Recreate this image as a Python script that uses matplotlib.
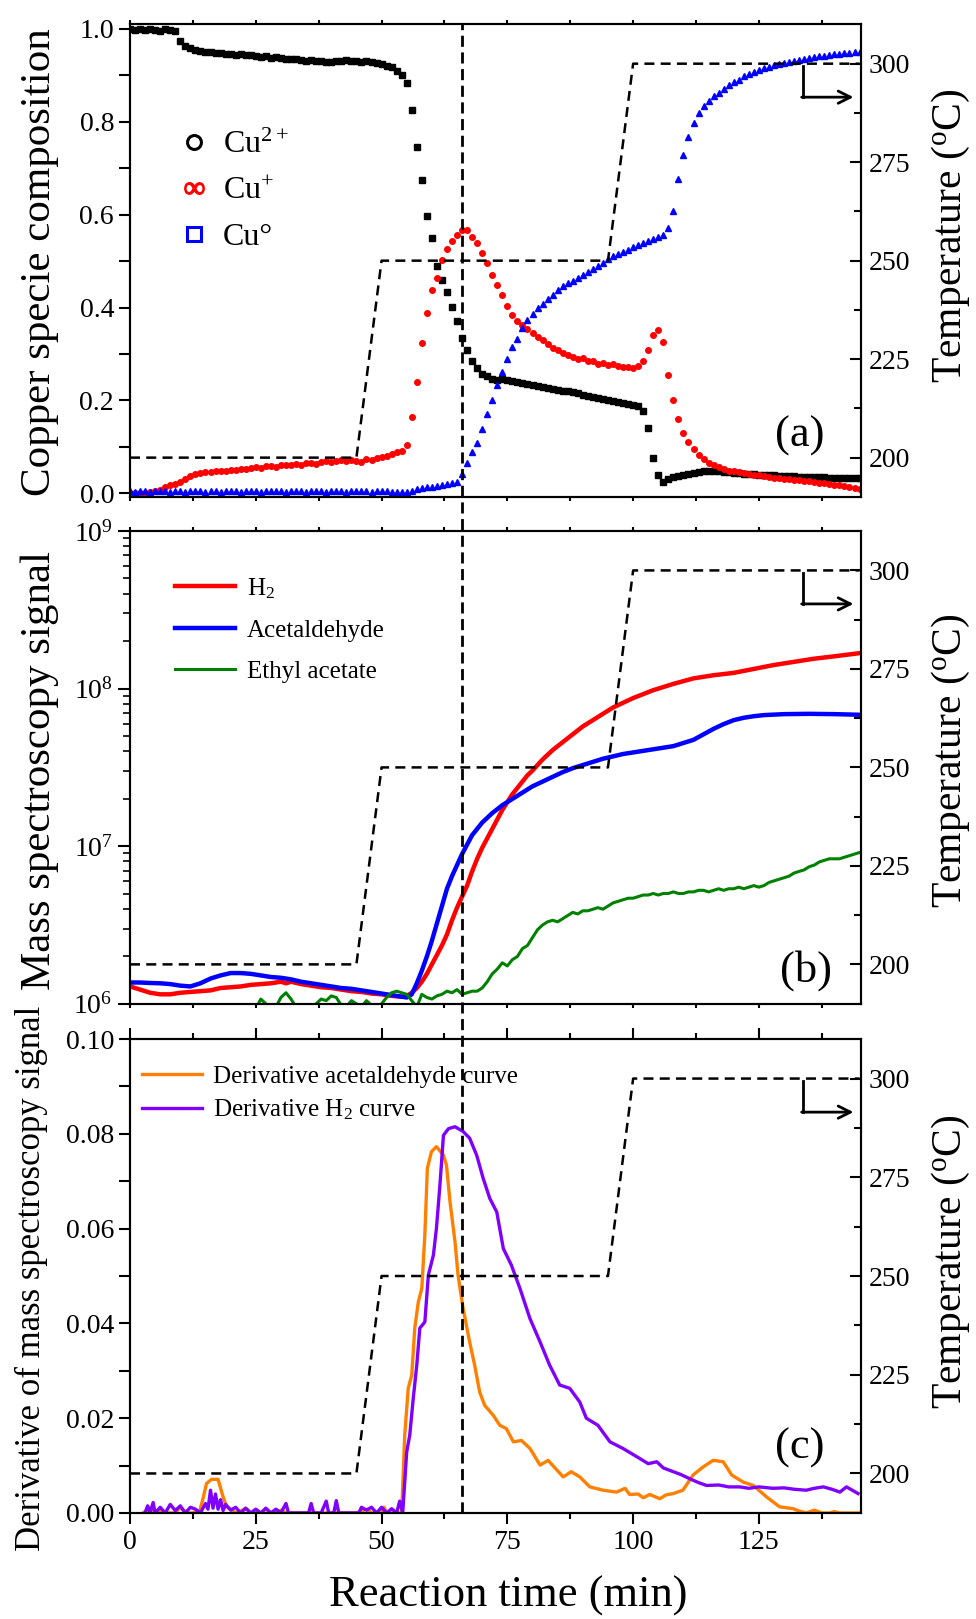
import numpy as np
import matplotlib
matplotlib.use('Agg')
import matplotlib.pyplot as plt
import matplotlib.transforms as mtransforms
from matplotlib.lines import Line2D
from matplotlib.ticker import MultipleLocator, LogLocator, NullFormatter

plt.rcParams['font.family'] = ['Liberation Serif', 'DejaVu Serif']
plt.rcParams['mathtext.fontset'] = 'custom'
plt.rcParams['mathtext.rm'] = 'Liberation Serif'
plt.rcParams['mathtext.it'] = 'Liberation Serif:italic'
plt.rcParams['mathtext.bf'] = 'Liberation Serif:bold'

# temperature programme (right axes)
temp_time = [0, 45, 50, 95, 100, 145]
temp_val = [200, 200, 250, 250, 300, 300]
t_mark = 66  # vertical reference line

# (a) copper species, one point per minute
t_cu = np.arange(0, 146)
cu2 = [1.000, 0.998, 1.000, 0.997, 1.000, 0.998, 0.996, 1.000, 0.998, 0.995,
       0.975, 0.963, 0.958, 0.955, 0.953, 0.951, 0.950, 0.948, 0.949, 0.946,
       0.947, 0.944, 0.945, 0.943, 0.944, 0.941, 0.940, 0.942, 0.938, 0.939,
       0.937, 0.936, 0.935, 0.936, 0.933, 0.932, 0.933, 0.930, 0.931, 0.929,
       0.928, 0.930, 0.931, 0.933, 0.930, 0.931, 0.929, 0.930, 0.928, 0.926,
       0.924, 0.921, 0.917, 0.910, 0.900, 0.883, 0.826, 0.745, 0.675, 0.598,
       0.550, 0.490, 0.460, 0.434, 0.401, 0.370, 0.334, 0.308, 0.285, 0.269,
       0.257, 0.252, 0.247, 0.244, 0.246, 0.245, 0.242, 0.239, 0.238, 0.236,
       0.233, 0.231, 0.229, 0.226, 0.224, 0.222, 0.221, 0.220, 0.218, 0.216,
       0.212, 0.210, 0.208, 0.205, 0.203, 0.201, 0.199, 0.197, 0.195, 0.192,
       0.190, 0.187, 0.178, 0.140, 0.075, 0.039, 0.024, 0.030, 0.035, 0.038,
       0.040, 0.042, 0.044, 0.046, 0.048, 0.049, 0.048, 0.047, 0.046, 0.045,
       0.044, 0.043, 0.042, 0.041, 0.041, 0.040, 0.040, 0.039, 0.039, 0.038,
       0.038, 0.037, 0.037, 0.036, 0.036, 0.036, 0.035, 0.035, 0.035, 0.034,
       0.034, 0.034, 0.033, 0.033, 0.033, 0.032]
cu1 = [0.000, 0.000, 0.001, 0.000, 0.002, 0.004, 0.008, 0.013, 0.018, 0.020,
       0.025, 0.031, 0.037, 0.041, 0.043, 0.045, 0.046, 0.047, 0.049, 0.048,
       0.051, 0.050, 0.053, 0.052, 0.055, 0.056, 0.054, 0.058, 0.059, 0.057,
       0.061, 0.060, 0.062, 0.064, 0.061, 0.065, 0.066, 0.064, 0.067, 0.069,
       0.068, 0.070, 0.072, 0.069, 0.071, 0.070, 0.068, 0.073, 0.072, 0.076,
       0.078, 0.080, 0.084, 0.088, 0.092, 0.104, 0.165, 0.240, 0.324, 0.388,
       0.437, 0.463, 0.503, 0.526, 0.543, 0.556, 0.567, 0.568, 0.553, 0.540,
       0.518, 0.495, 0.470, 0.448, 0.426, 0.404, 0.385, 0.370, 0.362, 0.353,
       0.345, 0.337, 0.330, 0.322, 0.313, 0.308, 0.303, 0.298, 0.294, 0.289,
       0.292, 0.284, 0.285, 0.279, 0.281, 0.276, 0.279, 0.274, 0.272, 0.273,
       0.270, 0.274, 0.285, 0.308, 0.340, 0.352, 0.325, 0.255, 0.200, 0.160,
       0.130, 0.110, 0.095, 0.082, 0.074, 0.066, 0.060, 0.056, 0.052, 0.049,
       0.047, 0.045, 0.044, 0.042, 0.040, 0.039, 0.037, 0.036, 0.034, 0.033,
       0.031, 0.030, 0.029, 0.028, 0.026, 0.026, 0.024, 0.023, 0.022, 0.020,
       0.018, 0.017, 0.015, 0.013, 0.011, 0.009]
cu0 = [0.004, 0.003, 0.004, 0.005, 0.003, 0.004, 0.005, 0.004, 0.003, 0.005,
       0.004, 0.003, 0.005, 0.004, 0.004, 0.003, 0.005, 0.004, 0.003, 0.004,
       0.005, 0.004, 0.003, 0.004, 0.005, 0.004, 0.003, 0.004, 0.004, 0.005,
       0.004, 0.003, 0.004, 0.005, 0.004, 0.003, 0.004, 0.005, 0.004, 0.003,
       0.004, 0.005, 0.004, 0.003, 0.004, 0.004, 0.005, 0.004, 0.003, 0.004,
       0.005, 0.004, 0.003, 0.002, 0.002, 0.003, 0.006, 0.009, 0.011, 0.013,
       0.014, 0.016, 0.018, 0.020, 0.022, 0.025, 0.042, 0.066, 0.089, 0.109,
       0.138, 0.170, 0.202, 0.233, 0.262, 0.289, 0.314, 0.333, 0.357, 0.373,
       0.387, 0.398, 0.408, 0.418, 0.427, 0.438, 0.446, 0.452, 0.458, 0.464,
       0.470, 0.476, 0.484, 0.490, 0.496, 0.504, 0.510, 0.515, 0.520, 0.525,
       0.530, 0.535, 0.539, 0.543, 0.548, 0.552, 0.556, 0.571, 0.608, 0.676,
       0.728, 0.768, 0.798, 0.818, 0.834, 0.845, 0.855, 0.863, 0.871, 0.879,
       0.885, 0.891, 0.898, 0.903, 0.908, 0.912, 0.915, 0.919, 0.922, 0.925,
       0.927, 0.929, 0.931, 0.933, 0.936, 0.938, 0.939, 0.941, 0.942, 0.944,
       0.946, 0.947, 0.948, 0.949, 0.950, 0.951]

# (b) mass spectroscopy signals, stored as log10(signal)
h2_t = [0, 2, 4, 6, 8, 10, 12, 14, 16, 18, 20, 22, 24, 26, 28, 30, 31, 32, 34, 36,
        38, 40, 42, 44, 46, 48, 50, 52, 54, 55, 56, 57, 58, 59, 60, 61, 62, 63, 64,
        65, 66, 67, 68, 69, 70, 71, 72, 73, 74, 75, 76, 77, 78, 79, 80, 82, 84, 86,
        88, 90, 92, 94, 96, 98, 100, 104, 108, 112, 116, 120, 124, 128, 132, 136,
        140, 145]
h2_log = [6.11, 6.09, 6.07, 6.06, 6.06, 6.07, 6.075, 6.08, 6.085, 6.10, 6.105, 6.11,
          6.12, 6.125, 6.13, 6.14, 6.13, 6.14, 6.125, 6.115, 6.105, 6.10, 6.09, 6.08,
          6.075, 6.065, 6.06, 6.05, 6.045, 6.05, 6.07, 6.10, 6.14, 6.19, 6.25, 6.31,
          6.37, 6.44, 6.53, 6.61, 6.68, 6.75, 6.84, 6.92, 6.99, 7.05, 7.11, 7.17, 7.23,
          7.28, 7.33, 7.37, 7.41, 7.45, 7.48, 7.55, 7.61, 7.66, 7.71, 7.76, 7.80, 7.84,
          7.88, 7.91, 7.94, 7.99, 8.03, 8.065, 8.085, 8.10, 8.125, 8.15, 8.17, 8.19,
          8.205, 8.225]
acet_t = [0, 2, 4, 6, 8, 10, 12, 14, 16, 18, 20, 22, 24, 26, 28, 30, 32, 34, 36, 38,
          40, 42, 44, 46, 48, 50, 52, 54, 55, 56, 57, 58, 59, 60, 61, 62, 63, 64, 65,
          66, 67, 68, 69, 70, 71, 72, 73, 74, 75, 76, 78, 80, 82, 84, 86, 88, 90, 92,
          94, 96, 98, 100, 104, 108, 110, 112, 114, 116, 118, 120, 122, 124, 126, 130,
          135, 140, 145]
acet_log = [6.135, 6.135, 6.132, 6.13, 6.125, 6.115, 6.11, 6.13, 6.16, 6.18, 6.195,
            6.195, 6.19, 6.18, 6.17, 6.165, 6.155, 6.14, 6.13, 6.12, 6.11, 6.10, 6.095,
            6.085, 6.075, 6.065, 6.055, 6.045, 6.04, 6.06, 6.13, 6.21, 6.30, 6.40, 6.51,
            6.62, 6.73, 6.81, 6.88, 6.95, 7.01, 7.07, 7.11, 7.15, 7.18, 7.21, 7.235, 7.26,
            7.28, 7.30, 7.34, 7.38, 7.41, 7.44, 7.47, 7.495, 7.515, 7.535, 7.555, 7.57,
            7.585, 7.595, 7.615, 7.635, 7.655, 7.675, 7.71, 7.745, 7.775, 7.80, 7.815,
            7.825, 7.832, 7.838, 7.84, 7.838, 7.834]
ea_t = np.arange(25, 146)
ea_log = [5.97, 6.03, 6.00, 5.96, 5.98, 6.04, 6.07, 6.03, 5.98, 5.97,
          5.98, 5.97, 6.00, 6.03, 6.02, 6.05, 6.04, 5.99, 5.98, 6.02,
          6.00, 5.98, 6.02, 5.99, 5.97, 6.00, 6.04, 6.07, 6.08, 6.07,
          6.06, 6.02, 5.98, 6.06, 6.04, 6.03, 6.05, 6.06, 6.08, 6.07,
          6.09, 6.06, 6.07, 6.08, 6.08, 6.10, 6.14, 6.19, 6.22, 6.26,
          6.24, 6.28, 6.30, 6.35, 6.37, 6.42, 6.47, 6.50, 6.52, 6.53,
          6.52, 6.54, 6.56, 6.58, 6.57, 6.59, 6.59, 6.60, 6.61, 6.60,
          6.62, 6.64, 6.65, 6.66, 6.67, 6.67, 6.68, 6.69, 6.69, 6.70,
          6.69, 6.70, 6.70, 6.71, 6.70, 6.70, 6.71, 6.71, 6.72, 6.72,
          6.71, 6.72, 6.73, 6.72, 6.73, 6.73, 6.74, 6.73, 6.74, 6.75,
          6.74, 6.75, 6.77, 6.78, 6.79, 6.80, 6.81, 6.83, 6.84, 6.85,
          6.87, 6.88, 6.90, 6.91, 6.92, 6.92, 6.92, 6.93, 6.94, 6.95, 6.96]

# (c) derivative curves
dh2_t = [3, 3.5, 4, 4.6, 5, 6, 7, 8, 9, 10, 11, 12, 13, 14, 15, 15.5, 16, 16.5, 17,
         17.5, 18, 18.5, 19, 20, 21, 22, 23, 24, 25, 26, 27, 28, 29, 30, 31, 31.5, 33,
         35.5, 36, 36.5, 38, 39, 39.5, 40.5, 41, 41.5, 44, 45.5, 46, 47, 48, 49, 50, 51,
         52, 53, 53.6, 54.2, 55, 55.6, 56.3, 57, 57.6, 58.6, 59.3, 60.3, 60.9, 61.6,
         62.3, 63.3, 64.6, 66.2, 67.5, 68.9, 70.2, 71.5, 72.9, 74.2, 75.8, 77.5, 79.5,
         81.5, 83.4, 85.4, 87.4, 89.4, 90.7, 93, 95.4, 98, 101.3, 103, 104.7, 106, 108,
         109.5, 111.3, 113, 114.6, 117, 119, 121.2, 123, 125, 127.8, 130, 132, 134.4,
         136, 137.8, 139.5, 141.1, 142.4, 144.7]
dh2 = [0.0, 0.0015, 0.0, 0.0022, 0.0, 0.0012, 0.0, 0.0018, 0.0005, 0.0015, 0.0,
       0.0012, 0.0008, 0.0, 0.002, 0.0008, 0.0048, 0.001, 0.004, 0.0008, 0.0028,
       0.0005, 0.0018, 0.0006, 0.0012, 0.0, 0.001, 0.0, 0.0008, 0.0, 0.001, 0.0,
       0.0008, 0.0, 0.002, 0.0, 0.0, 0.0, 0.002, 0.0, 0.0, 0.0025, 0.0, 0.0, 0.0026,
       0.0, 0.0, 0.0, 0.0012, 0.0006, 0.0012, 0.0, 0.0012, 0.0, 0.0009, 0.0, 0.0025,
       0.0, 0.0129, 0.0164, 0.0242, 0.0312, 0.039, 0.0403, 0.0502, 0.0544, 0.060,
       0.0692, 0.0797, 0.0811, 0.0815, 0.0805, 0.0791, 0.0755, 0.0706, 0.0664, 0.0635,
       0.0558, 0.0523, 0.0474, 0.041, 0.0361, 0.0312, 0.027, 0.0263, 0.0234, 0.020,
       0.0185, 0.015, 0.0136, 0.0115, 0.0104, 0.0108, 0.0095, 0.0087, 0.0081, 0.0072,
       0.0064, 0.0058, 0.0059, 0.0055, 0.0055, 0.0052, 0.0055, 0.0052, 0.0053, 0.0050,
       0.0048, 0.0052, 0.0055, 0.0050, 0.0044, 0.0055, 0.0041]
dac_t = [2.6, 3.5, 4.3, 5, 6, 7, 9, 10, 11, 12.5, 13.9, 14.5, 15.2, 16.2, 17.5, 18.5,
         19.2, 20, 21, 22, 23, 24, 26, 27, 28, 29, 30, 31, 45, 46, 47, 48, 50, 50.5, 51,
         54, 54.6, 55.3, 56, 56.6, 57.3, 58, 58.6, 59.1, 59.9, 60.9, 62.3, 62.9, 63.6,
         64.6, 65.2, 66.2, 67.5, 68.5, 69.5, 70.5, 72.2, 73.5, 74.8, 76.2, 77.8, 79.5,
         81.5, 83.1, 86.1, 87.7, 89.4, 91.4, 94, 96.7, 98.4, 99.3, 101, 102, 103.3,
         105.3, 106.5, 108, 109.9, 111.9, 113.9, 115.9, 117.9, 119.6, 121.9, 123.9,
         126.5, 129.1, 131.8, 133, 134.4, 136, 137.5, 139, 140, 141, 145]
dac = [0.0, 0.0008, 0.0012, 0.0, 0.0005, 0.0, 0.0, 0.0012, 0.0, 0.0, 0.0006, 0.003,
       0.0062, 0.0071, 0.0071, 0.0034, 0.0013, 0.0008, 0.0, 0.0004, 0.001, 0.0, 0.0,
       0.0008, 0.0, 0.0, 0.0006, 0.0, 0.0, 0.0004, 0.0008, 0.0, 0.0, 0.0012, 0.0,
       0.0, 0.0164, 0.0263, 0.0291, 0.039, 0.0445, 0.0474, 0.0586, 0.0727, 0.0762,
       0.0773, 0.0755, 0.0734, 0.0657, 0.0572, 0.0502, 0.0432, 0.0361, 0.0312, 0.0255,
       0.0227, 0.0206, 0.0185, 0.0178, 0.015, 0.0153, 0.0136, 0.0101, 0.0111, 0.0076,
       0.0087, 0.0076, 0.0055, 0.0048, 0.0044, 0.0052, 0.0039, 0.004, 0.0032, 0.0039,
       0.003, 0.0038, 0.0041, 0.0048, 0.008, 0.0097, 0.0111, 0.0108, 0.008, 0.0065,
       0.0058, 0.0034, 0.0013, 0.0009, 0.0004, 0.0, 0.0006, 0.0, 0.0, 0.0003, 0.0, 0.0]

fig = plt.figure(figsize=(9.76, 16.19), dpi=100)
L, W = 0.1332, 0.7485
ax_a = fig.add_axes([L, 0.693, W, 0.292])
ax_b = fig.add_axes([L, 0.380, W, 0.292])
ax_c = fig.add_axes([L, 0.0655, W, 0.2927])

FS_TICK = 20


def style_x(ax, labels):
    ax.set_xlim(0, 145.2)
    ax.xaxis.set_major_locator(MultipleLocator(25))
    ax.xaxis.set_minor_locator(MultipleLocator(12.5))
    ax.tick_params(axis='x', which='both', top=True, direction='out', width=1.5,
                   labelsize=FS_TICK, labelbottom=labels)
    if labels:
        ax.tick_params(axis='x', which='major', length=8, pad=4)
        ax.tick_params(axis='x', which='minor', length=4)
    else:
        ax.tick_params(axis='x', which='both', length=3)
    ax.tick_params(axis='x', which='both', labeltop=False)
    for s in ax.spines.values():
        s.set_linewidth(1.5)


def temp_axis(ax):
    tw = ax.twinx()
    tw.plot(temp_time, temp_val, color='black', lw=1.8, ls=(0, (4, 2.5)))
    tw.set_ylim(190, 310)
    tw.yaxis.set_major_locator(MultipleLocator(25))
    tw.yaxis.set_minor_locator(MultipleLocator(12.5))
    tw.tick_params(axis='y', which='major', direction='in', length=8, width=1.5,
                   labelsize=FS_TICK, pad=6)
    tw.tick_params(axis='y', which='minor', direction='in', length=5, width=1.5)
    # arrow pointing to the temperature axis
    tw.plot([133.7, 133.7], [299.4, 291.5], color='black', lw=2)
    tw.annotate('', xy=(143.8, 291.5), xytext=(133.5, 291.5),
                arrowprops=dict(arrowstyle='->', lw=2, color='black', mutation_scale=22,
                                shrinkA=0, shrinkB=0))
    for s in tw.spines.values():
        s.set_linewidth(1.5)
    return tw


# ---- (a)
ax_a.plot(t_cu, cu2, ls='none', marker='s', ms=4, color='black')
ax_a.plot(t_cu, cu1, ls='none', marker='o', ms=4, color='#ff0000')
ax_a.plot(t_cu, cu0, ls='none', marker='^', ms=4.5, color='#0000ff')
ax_a.set_ylim(-0.008, 1.01)
ax_a.yaxis.set_major_locator(MultipleLocator(0.2))
ax_a.yaxis.set_minor_locator(MultipleLocator(0.1))
ax_a.yaxis.set_major_formatter(plt.FormatStrFormatter('%.1f'))
ax_a.tick_params(axis='y', which='both', direction='out', length=8, width=1.5,
                 labelsize=FS_TICK)
style_x(ax_a, False)
temp_axis(ax_a)
handles_a = [Line2D([], [], ls='none', marker='o', ms=10, mfc='none', mec='black', mew=2.2),
             Line2D([], [], ls='none', marker=r'$\infty$', ms=14, color='#ff0000'),
             Line2D([], [], ls='none', marker='s', ms=10, mfc='none', mec='#0000ff', mew=2.2)]
ax_a.legend(handles_a, ['Cu$^{2+}$', 'Cu$^{+}$', 'Cu°'], loc='upper left',
            bbox_to_anchor=(0.068, 0.775), frameon=False, fontsize=23, handlelength=0.9,
            handletextpad=0.45, labelspacing=0.52, borderpad=0, borderaxespad=0)
ax_a.text(0.917, 0.129, '(a)', transform=ax_a.transAxes, fontsize=32,
          ha='center', va='center')

# ---- (b)
ax_b.plot(h2_t, 10 ** np.array(h2_log), color='#ff0000', lw=3.2, label='H$_2$')
ax_b.plot(acet_t, 10 ** np.array(acet_log), color='#0000ff', lw=3.2, label='Acetaldehyde')
ax_b.plot(ea_t, 10 ** np.array(ea_log), color='#008000', lw=2.2, label='Ethyl acetate')
ax_b.set_yscale('log')
ax_b.set_ylim(1e6, 1e9)
ax_b.yaxis.set_major_locator(LogLocator(base=10))
ax_b.yaxis.set_minor_locator(LogLocator(base=10, subs=np.arange(2, 10)))
ax_b.yaxis.set_minor_formatter(NullFormatter())
ax_b.tick_params(axis='y', which='major', direction='out', length=9, width=1.5,
                 labelsize=FS_TICK)
ax_b.tick_params(axis='y', which='minor', direction='out', length=5, width=1.2)
style_x(ax_b, False)
temp_axis(ax_b)
ax_b.legend(loc='upper left', bbox_to_anchor=(0.062, 0.905), frameon=False, fontsize=18,
            handlelength=2.4, handletextpad=0.45, labelspacing=0.74, borderpad=0,
            borderaxespad=0)
ax_b.text(0.925, 0.07, '(b)', transform=ax_b.transAxes, fontsize=32,
          ha='center', va='center')

# ---- (c)
ax_c.plot(dac_t, dac, color='#ff8000', lw=2.4, label='Derivative acetaldehyde curve')
ax_c.plot(dh2_t, dh2, color='#8000ff', lw=2.4, label='Derivative H$_2$ curve')
ax_c.set_ylim(0, 0.1)
ax_c.yaxis.set_major_locator(MultipleLocator(0.02))
ax_c.yaxis.set_minor_locator(MultipleLocator(0.01))
ax_c.yaxis.set_major_formatter(plt.FormatStrFormatter('%.2f'))
ax_c.tick_params(axis='y', which='both', direction='out', length=8, width=1.5,
                 labelsize=FS_TICK)
style_x(ax_c, True)
temp_axis(ax_c)
ax_c.legend(loc='upper left', bbox_to_anchor=(0.016, 0.945), frameon=False, fontsize=18,
            handlelength=2.4, handletextpad=0.45, labelspacing=0.4, borderpad=0,
            borderaxespad=0)
ax_c.text(0.917, 0.137, '(c)', transform=ax_c.transAxes, fontsize=32,
          ha='center', va='center')

# vertical reference line through all panels
trans = mtransforms.blended_transform_factory(ax_c.transData, fig.transFigure)
fig.add_artist(Line2D([t_mark, t_mark], [0.0655, 0.985], transform=trans, color='black',
                      lw=2, ls=(0, (4, 2))))

# axis titles
fig.text(40 / 976, 1 - 262 / 1619, 'Copper specie composition', rotation=90,
         fontsize=31, ha='center', va='center')
fig.text(40 / 976, 1 - 770 / 1619, 'Mass spectroscopy signal', rotation=90,
         fontsize=31, ha='center', va='center')
fig.text(31 / 976, 1 - 1278 / 1619, 'Derivative of mass spectroscopy signal', rotation=90,
         fontsize=25, ha='center', va='center')
for yc in (236, 761, 1262):
    fig.text(951 / 976, 1 - yc / 1619, 'Temperature ($^\\mathrm{o}$C)', rotation=90,
             fontsize=30, ha='center', va='center')
fig.text(508 / 976, 1 - 1596 / 1619, 'Reaction time (min)', fontsize=32,
         ha='center', va='center')

fig.savefig('out.png', dpi=100)
